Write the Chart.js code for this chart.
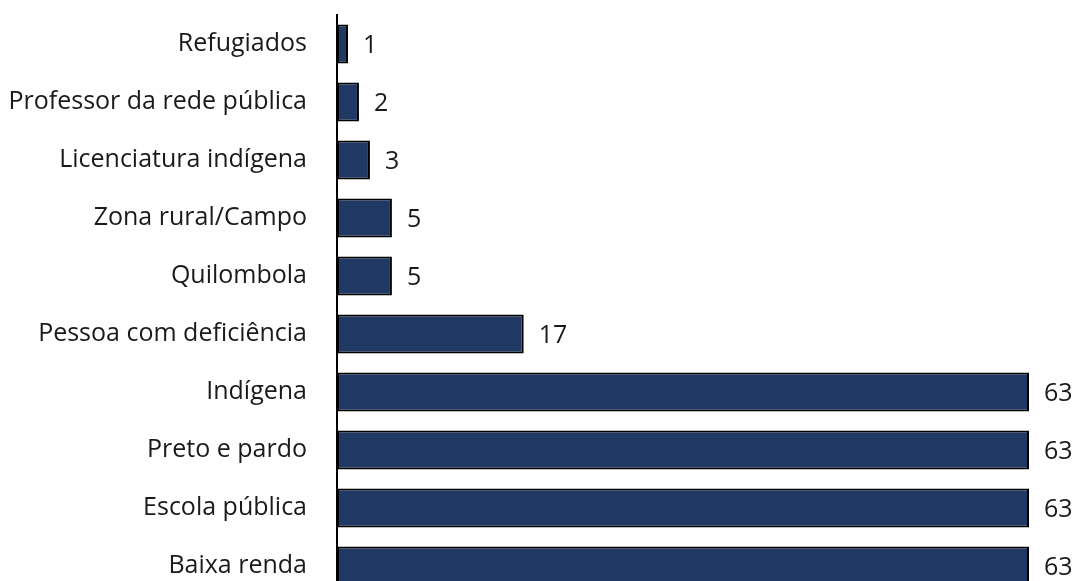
<!DOCTYPE html>
<html>
<head>
<meta charset="utf-8">
<script src="https://cdn.jsdelivr.net/npm/chart.js@4"></script>
<style>
  html, body { margin: 0; padding: 0; background: #fff; overflow: hidden; }
  canvas { display: block; }
</style>
</head>
<body>
<canvas id="chart" width="1079" height="610"></canvas>
<script>
// Categorias e valores (de cima para baixo)
const categorias = [
    'Refugiados', 'Professor da rede pública', 'Licenciatura indígena',
    'Zona rural/Campo', 'Quilombola', 'Pessoa com deficiência',
    'Indígena', 'Preto e pardo', 'Escola pública', 'Baixa renda'
];
const valores = [1, 2, 3, 5, 5, 17, 63, 63, 63, 63];

const fonte = '"Open Sans", "Noto Sans", sans-serif';

// rótulos de valor à direita de cada barra
const rotulos = {
    id: 'rotulos',
    afterDatasetsDraw(chart) {
        const ctx = chart.ctx;
        const meta = chart.getDatasetMeta(0);
        ctx.save();
        ctx.font = '25px ' + fonte;
        ctx.fillStyle = '#1a1a1a';
        ctx.textBaseline = 'middle';
        ctx.textAlign = 'left';
        meta.data.forEach((bar, i) => {
            ctx.fillText(String(valores[i]), bar.x + 15, bar.y + 2);
        });
        ctx.restore();
    }
};

new Chart(document.getElementById('chart').getContext('2d'), {
    type: 'bar',
    data: {
        labels: categorias,
        datasets: [{
            data: valores,
            backgroundColor: '#203864',
            borderColor: '#000000',
            borderWidth: 2,
            borderSkipped: false,
            categoryPercentage: 1,
            barPercentage: 0.67
        }]
    },
    options: {
        indexAxis: 'y',
        responsive: false,
        animation: false,
        layout: { padding: { top: 13, bottom: 15, left: 0, right: 50 } },
        plugins: {
            legend: { display: false },
            tooltip: { enabled: false }
        },
        scales: {
            x: {
                display: false,
                min: 0,
                max: 63
            },
            y: {
                afterFit: (scale) => { scale.width = 337; },
                // espaço entre rótulo e eixo via tickLength (ticks invisíveis)
                grid: { display: false, drawTicks: true, tickLength: 30, tickColor: 'transparent' },
                border: { display: true, color: '#000', width: 2 },
                ticks: {
                    padding: 0,
                    color: '#1a1a1a',
                    font: { family: fonte, size: 25 }
                }
            }
        }
    },
    plugins: [rotulos]
});
</script>
</body>
</html>
